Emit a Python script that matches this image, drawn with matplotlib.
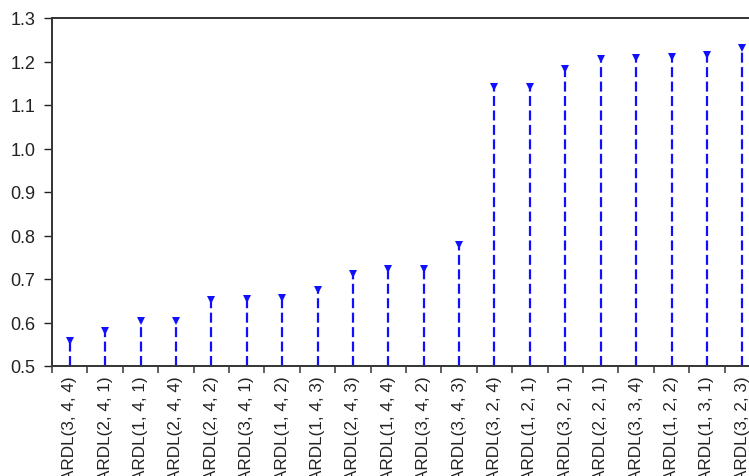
import matplotlib.pyplot as plt
import numpy as np

plt.rcParams['font.family'] = ['Liberation Sans', 'DejaVu Sans']

models = ['ARDL(3, 4, 4)', 'ARDL(2, 4, 1)', 'ARDL(1, 4, 1)', 'ARDL(2, 4, 4)',
          'ARDL(2, 4, 2)', 'ARDL(3, 4, 1)', 'ARDL(1, 4, 2)', 'ARDL(1, 4, 3)',
          'ARDL(2, 4, 3)', 'ARDL(1, 4, 4)', 'ARDL(3, 4, 2)', 'ARDL(3, 4, 3)',
          'ARDL(3, 2, 4)', 'ARDL(1, 2, 1)', 'ARDL(3, 2, 1)', 'ARDL(2, 2, 1)',
          'ARDL(3, 3, 4)', 'ARDL(1, 2, 2)', 'ARDL(1, 3, 1)', 'ARDL(3, 2, 3)']
criteria = [0.558, 0.580, 0.603, 0.604, 0.652, 0.654, 0.656, 0.675,
            0.711, 0.722, 0.723, 0.779, 1.141, 1.141, 1.183, 1.205,
            1.208, 1.210, 1.216, 1.230]
y_ticks = [0.5, 0.6, 0.7, 0.8, 0.9, 1.0, 1.1, 1.2, 1.3]

fig = plt.figure(figsize=(7.49, 4.77), dpi=100)
fig.patch.set_facecolor('white')
# plot area runs past the right edge of the figure
ax = fig.add_axes([52 / 749, 1 - 367 / 477, 708 / 749, 348 / 477])

x = np.arange(len(models))
base = y_ticks[0]
ax.vlines(x, base, criteria, colors='#1010ff', linestyles=(0, (4.5, 2.0)), linewidth=1.6)
ax.plot(x, criteria, linestyle='none', marker='v', markersize=6,
        color='#1010ff', markeredgewidth=0)

ax.set_xlim(-0.5, len(models) - 0.5)
ax.set_ylim(0.5, 1.3)
ax.set_yticks(y_ticks)
ax.set_yticklabels([f'{v:.1f}' for v in y_ticks])

ax.set_xticks(x)
ax.set_xticklabels(models, rotation=90, va='top', ha='center')
ax.set_xticks(np.arange(len(models) + 1) - 0.5, minor=True)
ax.tick_params(axis='x', which='major', length=0, pad=7, labelsize=12.3, colors='#222222')
ax.tick_params(axis='x', which='minor', length=5, width=1.2, direction='out', color='#444444')
ax.tick_params(axis='y', length=6, width=1.0, direction='out', labelsize=13,
               colors='#222222', pad=6)

for side in ['left', 'top', 'bottom']:
    ax.spines[side].set_color('#333333')
    ax.spines[side].set_linewidth(1.4)
ax.spines['right'].set_visible(False)

fig.savefig('out.png', dpi=100)
